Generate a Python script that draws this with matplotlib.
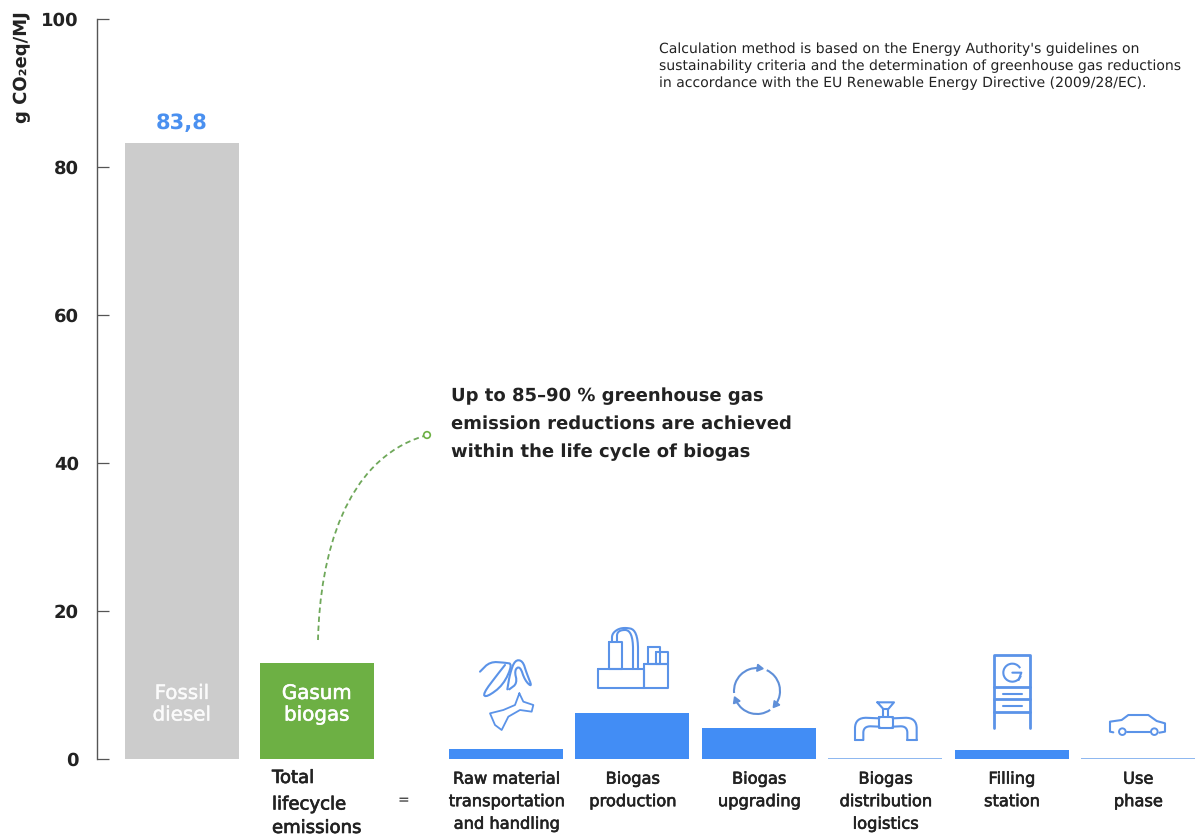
import numpy as np
import matplotlib
matplotlib.use("Agg")
import matplotlib.pyplot as plt
import matplotlib.patheffects as pe
from matplotlib.path import Path
from matplotlib.patches import PathPatch, Circle, Arc

plt.rcParams['font.family'] = ['DejaVu Sans']
plt.rcParams['text.hinting'] = 'no_hinting'
plt.rcParams['text.hinting_factor'] = 1

# ---- data ----
main_labels = ["Fossil\ndiesel", "Gasum\nbiogas"]
main_values = [83.3, 13.0]
main_colors = ["#CCCCCC", "#6DB044"]
value_label = "83,8"
stage_labels = ["Raw material\ntransportation\nand handling", "Biogas\nproduction", "Biogas\nupgrading",
                "Biogas\ndistribution\nlogistics", "Filling\nstation", "Use\nphase"]
stage_values = [1.3, 6.2, 4.2, 0.2, 1.2, 0.2]
y_ticks = [0, 20, 40, 60, 80, 100]

W, H = 1197, 836
BLUE = "#428DF5"
ICON = "#5B93E8"
DARK = "#222222"


def medium(color, w=0.45):
    return [pe.withStroke(linewidth=w, foreground=color)]


fig = plt.figure(figsize=(W / 100, H / 100), dpi=100, facecolor="white")
ax = fig.add_axes([97 / W, 1 - 759 / H, 1100 / W, 740 / H])
ax.set_xlim(97, 1197)
ax.set_ylim(0, 100)
for s in ["top", "right", "bottom"]:
    ax.spines[s].set_visible(False)
ax.spines["left"].set_color("#555555")
ax.spines["left"].set_linewidth(1.0)
ax.set_yticks(y_ticks)
ax.tick_params(axis="y", direction="in", length=8.5, width=0.9, color="#555555", pad=13,
               labelsize=13, labelcolor=DARK)
for t in ax.get_yticklabels():
    t.set_fontweight("bold")
ax.set_ylabel("g CO₂eq/MJ", fontsize=13.3, fontweight="bold", color=DARK, ha="right", va="center")
ax.yaxis.set_label_coords(-75 / 1100, 1.01)

# main bars
main_x = [182, 317]
ax.bar(main_x, main_values, width=114, color=main_colors)
for x, lab, a in zip(main_x, main_labels, [0.75, 1.0]):
    ax.text(x, 7.4, lab, ha="center", va="center", color="white", alpha=a,
            fontsize=14.3, linespacing=1.15, path_effects=medium("white", 0.4))
ax.text(main_x[0], main_values[0] + 1.3, value_label, ha="center", va="bottom", color="#4A90F0",
        fontsize=15, fontweight="bold")

# stage bars
stage_x = 506 + 126.4 * np.arange(len(stage_values))
ax.bar(stage_x, stage_values, width=114, color=[BLUE if v > 0.5 else "#8FB8F0" for v in stage_values])
ax.set_xticks(stage_x)
ax.set_xticklabels(stage_labels, fontsize=11.7, color=DARK, linespacing=1.58,
                   path_effects=medium(DARK))
ax.tick_params(axis="x", length=0, pad=9)

# overlay in pixel coordinates for notes and icons
ov = fig.add_axes([0, 0, 1, 1], facecolor="none")
ov.set_xlim(0, W)
ov.set_ylim(H, 0)
ov.axis("off")

for y, s in zip([778, 804.5, 828], ["Total", "lifecycle", "emissions"]):
    ov.text(272, y, s, fontsize=13, color=DARK, va="center", path_effects=medium(DARK, 0.5))
ov.text(403, 800, "=", fontsize=10, color=DARK, ha="center", va="center")

for y, s in zip([396, 424, 452], ["Up to 85–90 % greenhouse gas", "emission reductions are achieved",
                                  "within the life cycle of biogas"]):
    ov.text(451, y, s, fontsize=13.15, fontweight="bold", color=DARK, va="center")
for y, s in zip([49.3, 66.5, 83.3],
                ["Calculation method is based on the Energy Authority's guidelines on",
                 "sustainability criteria and the determination of greenhouse gas reductions",
                 "in accordance with the EU Renewable Energy Directive (2009/28/EC)."]):
    ov.text(659, y, s, fontsize=10.4, color=DARK, va="center")

# dashed curve
curve = Path([(318, 640), (320, 555), (345, 460), (424, 436)],
             [Path.MOVETO, Path.CURVE4, Path.CURVE4, Path.CURVE4])
ov.add_patch(PathPatch(curve, fill=False, edgecolor="#6FA85A", lw=1.3, ls=(0, (3, 2))))
ov.add_patch(Circle((427, 435), 3.3, fill=True, facecolor="white", edgecolor="#6DB044", lw=1.2))


def line(pts, origin=(0, 0), scale=1.0, lw=1.5, color=ICON):
    p = np.array(pts, float) * scale + np.array(origin)
    ov.plot(p[:, 0], p[:, 1], color=color, lw=lw, solid_capstyle="round", solid_joinstyle="round")


def box(x0, y0, x1, y1, **k):
    line([(x0, y0), (x1, y0), (x1, y1), (x0, y1), (x0, y0)], **k)


def smooth(pts, origin=(0, 0), scale=1.0, lw=1.5, color=ICON, rounds=3):
    out = np.array(pts, float)
    for _ in range(rounds):
        a = out[:-1] * 0.75 + out[1:] * 0.25
        b = out[:-1] * 0.25 + out[1:] * 0.75
        mid = np.empty((len(a) * 2, 2))
        mid[0::2], mid[1::2] = a, b
        out = np.vstack([out[0], mid, out[-1]])
    line(out, origin, scale, lw, color)


# biomass icon
z0 = dict(origin=(470, 650), scale=1 / 3)
smooth([(30, 65), (60, 35), (105, 38), (128, 42), (100, 105), (50, 142), (38, 132), (85, 70), (105, 45)], rounds=2, **z0)
smooth([(112, 118), (120, 70), (135, 30), (158, 32), (170, 70), (187, 112), (165, 92), (150, 48), (133, 60), (142, 100), (118, 118)], rounds=2, **z0)
line([(148, 130), (160, 155), (190, 165), (185, 185), (150, 180), (115, 200), (95, 240), (75, 225), (60, 190),
      (100, 180), (135, 165), (148, 130)], lw=1.3, **z0)

# factory icon
box(598, 669, 644, 688)
box(644, 664, 668, 688)
box(609, 642, 622, 669)
box(648, 647, 660, 664)
box(656, 652, 668, 664)
smooth([(617, 642), (617, 630), (633, 630), (633, 669)])
smooth([(612, 642), (612, 633), (622, 627), (638, 630), (638, 669)])

# recycle icon
cx, cy, r = 757, 691, 23
for a0 in (-70, 50, 170):
    ov.add_patch(Arc((cx, cy), 2 * r, 2 * r, theta1=a0 + 5, theta2=a0 + 105, color="#5F8FD8", lw=1.5))
    a = np.radians(a0 + 108)
    tip = np.array([cx + r * np.cos(a), cy + r * np.sin(a)])
    tan = np.array([-np.sin(a), np.cos(a)])
    nor = np.array([np.cos(a), np.sin(a)])
    ov.fill(*np.array([tip + tan * 3, tip - tan * 3 + nor * 3.5, tip - tan * 3 - nor * 3.5]).T, color="#5F8FD8")

# tap icon
z2 = dict(origin=(820, 640), scale=1 / 3)
box(178, 232, 218, 265, **z2)
line([(172, 187), (222, 187), (205, 207), (190, 207), (172, 187)], **z2)
line([(190, 207), (190, 232)], **z2)
line([(205, 207), (205, 232)], **z2)
smooth([(178, 235), (105, 232), (105, 300)], **z2)
smooth([(178, 260), (130, 258), (130, 300)], **z2)
line([(105, 300), (130, 300)], **z2)
smooth([(218, 235), (290, 232), (290, 300)], **z2)
smooth([(218, 260), (262, 258), (262, 300)], **z2)
line([(262, 300), (290, 300)], **z2)

# filling station icon
line([(522, 265), (522, 45), (630, 45), (630, 265)], lw=2.0, **z2)
for y in (142, 178, 215):
    line([(522, y), (630, y)], lw=2.0, **z2)
for y in (162, 198):
    line([(548, y), (605, y)], **z2)
ov.add_patch(Arc((820 + 577 / 3, 640 + 98 / 3), 18, 18, theta1=20, theta2=330, color=ICON, lw=1.5))
line([(577, 98), (604, 98), (596, 120)], **z2)

# car icon
line([(880, 277), (870, 275), (870, 245), (905, 240), (925, 225), (985, 225), (1010, 243), (1035, 250),
      (1035, 275), (1018, 278)], **z2)
line([(920, 277), (990, 277)], **z2)
for x in (907, 1003):
    ov.add_patch(Circle((820 + x / 3, 640 + 275 / 3), 3.3, fill=False, edgecolor=ICON, lw=1.4))

fig.savefig("out.png", dpi=100)
